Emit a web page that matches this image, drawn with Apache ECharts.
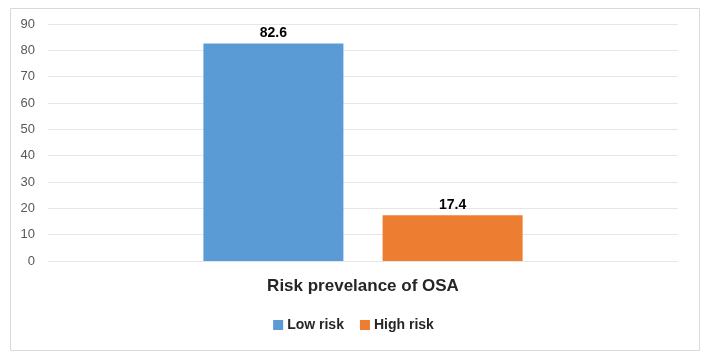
<!DOCTYPE html>
<html><head><meta charset="utf-8">
<script src="https://cdn.jsdelivr.net/npm/echarts@6/dist/echarts.min.js"></script>
<style>html,body{margin:0;padding:0;background:#fff}#c{width:707px;height:360px}</style>
</head><body><div id="c"></div>
<script>
const categories = ["Risk prevelance of OSA"];
const seriesNames = ["Low risk", "High risk"];
const lowRisk = [82.6];
const highRisk = [17.4];
const yTicks = [0, 10, 20, 30, 40, 50, 60, 70, 80, 90];

const chart = echarts.init(document.getElementById('c'), null, {renderer: 'canvas'});
const fontFam = "Liberation Sans, Arial, sans-serif";
chart.setOption({
  animation: false,
  backgroundColor: '#fff',
  graphic: [{
    type: 'rect', left: 8, top: 6,
    shape: {width: 689, height: 342},
    style: {fill: 'none', stroke: '#d9d9d9', lineWidth: 1}
  }],
  grid: {left: 48, right: 29, top: 24, bottom: 99, containLabel: false},
  legend: {
    bottom: 23, left: 'center',
    itemWidth: 10, itemHeight: 10, itemGap: 16,
    icon: 'rect',
    textStyle: {fontFamily: fontFam, fontSize: 14, fontWeight: 'bold', color: '#262626', padding: [0,0,0,-1]},
    data: seriesNames
  },
  xAxis: {
    type: 'category', data: categories,
    axisLine: {show: false}, axisTick: {show: false},
    axisLabel: {fontFamily: fontFam, fontSize: 17, fontWeight: 'bold', color: '#262626', margin: 17}
  },
  yAxis: {
    type: 'value', min: yTicks[0], max: yTicks[yTicks.length-1], interval: 10,
    axisLine: {show: false}, axisTick: {show: false},
    splitLine: {lineStyle: {color: '#e6e6e6', width: 1}},
    axisLabel: {fontFamily: fontFam, fontSize: 13, color: '#595959', margin: 13}
  },
  series: [
    {name: seriesNames[0], type: 'bar', data: lowRisk, barWidth: 140, barGap: '28%',
     itemStyle: {color: '#5b9bd5'},
     label: {show: true, position: 'top', distance: 3, fontFamily: fontFam, fontSize: 14, fontWeight: 'bold', color: '#000'}},
    {name: seriesNames[1], type: 'bar', data: highRisk, barWidth: 140,
     itemStyle: {color: '#ed7d31'},
     label: {show: true, position: 'top', distance: 3, fontFamily: fontFam, fontSize: 14, fontWeight: 'bold', color: '#000'}}
  ]
});
</script></body></html>
